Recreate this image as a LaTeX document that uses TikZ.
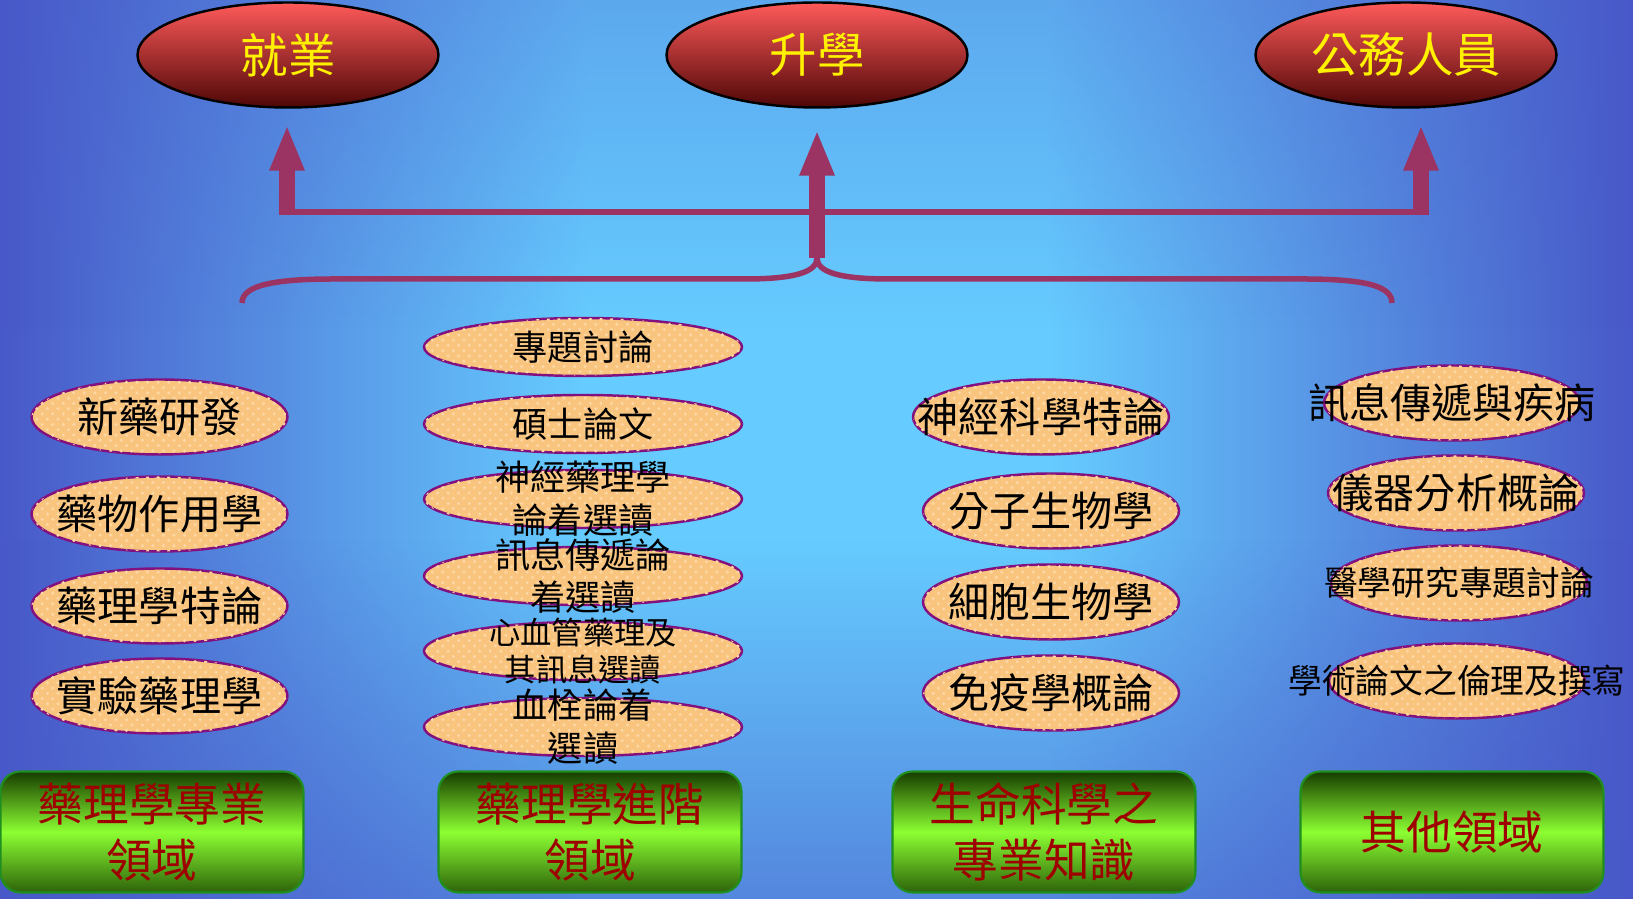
\documentclass[tikz,border=0pt]{standalone}
\usepackage{fontspec}
\newfontfamily\cjk{Noto Sans CJK TC}
\usepackage{tikz}
\usetikzlibrary{shapes.geometric}
\usetikzlibrary{positioning}
\usetikzlibrary{calc,arrows.meta,patterns,fadings}

\definecolor{bgedge}{HTML}{4858C8}
\definecolor{bgmid}{HTML}{66CCFF}
\definecolor{redtop}{HTML}{FF5A5A}
\definecolor{redbot}{HTML}{4E0606}
\definecolor{plum}{HTML}{9B3462}
\definecolor{peach}{HTML}{F9C47E}
\definecolor{peachdot}{HTML}{FDD7A4}
\definecolor{rim}{HTML}{82107E}
\definecolor{lime}{HTML}{8CFF32}
\definecolor{forest}{HTML}{163C00}
\definecolor{boxrim}{HTML}{1F8F1F}
\definecolor{darkred}{HTML}{9E0000}

\pgfdeclarehorizontalshading{bgband}{100bp}{color(0bp)=(bgedge); color(25bp)=(bgedge); color(43bp)=(bgmid); color(57bp)=(bgmid); color(75bp)=(bgedge); color(100bp)=(bgedge)}
\tikzfading[name=fadedown, top color=transparent!0, bottom color=transparent!100]
\tikzfading[name=fadeup, top color=transparent!100, bottom color=transparent!0]

\begin{document}
\begin{tikzpicture}[y=-1cm]
 \useasboundingbox (0,0) rectangle (16.33,8.99);

\tikzstyle{goal}=[ellipse,draw=black,line width=0.7pt,top color=redtop,bottom color=redbot,minimum width=3.01cm,minimum height=1.05cm,inner sep=0pt,text=yellow,font=\cjk\fontsize{13.5pt}{16pt}\selectfont]
\tikzstyle{course}=[ellipse,draw=rim,line width=0.7pt,fill=peach,postaction={pattern=crosshatch dots,pattern color=peachdot},minimum width=2.56cm,minimum height=0.75cm,inner sep=0pt]
\tikzstyle{thin course}=[course,minimum width=3.18cm,minimum height=0.58cm]
\tikzstyle{ctext}=[font=\cjk\fontsize{11.7pt}{14pt}\selectfont,align=center,inner sep=0pt]
\tikzstyle{stext}=[font=\cjk\fontsize{10pt}{12.2pt}\selectfont,align=center,inner sep=0pt]
\tikzstyle{ntext}=[font=\cjk\fontsize{9.6pt}{11pt}\selectfont,align=center,inner sep=0pt]
\tikzstyle{xtext}=[font=\cjk\fontsize{8.9pt}{10.5pt}\selectfont,align=center,inner sep=0pt]
\tikzstyle{fieldbox}=[rectangle,rounded corners=0.2cm,draw=boxrim,line width=0.6pt,top color=forest,bottom color=forest!80!lime,middle color=lime,minimum width=3.03cm,minimum height=1.21cm,inner sep=0pt,align=center,text=darkred,font=\cjk\fontsize{13pt}{16pt}\selectfont]
\tikzstyle{flow}=[plum,line width=0.16cm,-{Triangle[length=0.46cm,width=0.32cm]}]
\tikzstyle{rail}=[plum,line width=0.055cm]

   %draw background
    \shade[shading=bgband] (0,0) rectangle (16.33,8.99);
    \fill[bgedge,opacity=0.3,path fading=fadedown] (0,0) rectangle (16.33,3.3);
    \fill[bgedge,opacity=0.6,path fading=fadeup] (0,5.4) rectangle (16.33,8.99);

   %draw goals
    \node (jiuye) [goal] at (2.88,0.55) {就業};
    \node (shengxue) [goal] at (8.17,0.55) {升學};
    \node (gongwu) [goal] at (14.06,0.55) {公務人員};

   %draw arrows and brace
    \coordinate (railL) at (2.87,2.12);
    \coordinate (railR) at (14.21,2.12);
    \coordinate (tip) at (8.17,2.58);

    \draw [rail] (railL) -- (railR);
    \draw [flow,shorten >=0.16cm] ($(railL)+(0,0.03)$) -- (railL |- jiuye.south);
    \draw [flow,shorten >=0.16cm] ($(railR)+(0,0.03)$) -- (railR |- gongwu.south);
    \draw [flow,shorten >=0.21cm] (tip) -- (shengxue.south);

    \draw [rail] (2.42,3.03) .. controls (2.42,2.85) and (2.75,2.79) .. (3.35,2.79) -- (7.45,2.79) .. controls (7.95,2.79) and (8.17,2.72) .. (tip) .. controls (8.17,2.72) and (8.39,2.79) .. (8.89,2.79) -- (13.02,2.79) .. controls (13.62,2.79) and (13.92,2.85) .. (13.92,3.03);

   %first column
    \node (xinyao) [course,label={[ctext]center:新藥研發}] at (1.595,4.17) {};
    \node (yaowu) [course,label={[ctext]center:藥物作用學}] at (1.595,5.14) {};
    \node (yaoli) [course,label={[ctext]center:藥理學特論}] at (1.595,6.06) {};
    \node (shiyan) [course,label={[ctext]center:實驗藥理學}] at (1.595,6.96) {};

   %second column
    \node (zhuanti) [thin course,label={[stext]center:專題討論}] at (5.83,3.47) {};
    \node (shuoshi) [thin course,label={[stext]center:碩士論文}] at (5.83,4.24) {};
    \node (shenjing) [thin course,label={[stext]center:{神經藥理學\\論着選讀}}] at (5.83,4.99) {};
    \node (xunxi) [thin course,label={[stext]center:{訊息傳遞論\\着選讀}}] at (5.83,5.76) {};
    \node (xinxue) [thin course,label={[xtext]center:{心血管藥理及\\其訊息選讀}}] at (5.83,6.51) {};
    \node (xueshuan) [thin course,label={[stext]center:{血栓論着\\選讀}}] at (5.83,7.27) {};

   %third column
    \node (shenke) [course,label={[ctext]center:神經科學特論}] at (10.41,4.17) {};
    \node (fenzi) [course,label={[ctext]center:分子生物學}] at (10.51,5.11) {};
    \node (xibao) [course,label={[ctext]center:細胞生物學}] at (10.51,6.02) {};
    \node (mianyi) [course,label={[ctext]center:免疫學概論}] at (10.51,6.93) {};

   %fourth column
    \node (jibing) [course,label={[ctext]center:訊息傳遞與疾病}] at (14.52,4.03) {};
    \node (yiqi) [course,label={[ctext]center:儀器分析概論}] at (14.56,4.93) {};
    \node (yixue) [course,label={[ntext]center:醫學研究專題討論}] at (14.59,5.83) {};
    \node (lunli) [course,label={[ntext]center:學術論文之倫理及撰寫}] at (14.57,6.81) {};

   %draw fields
    \node (zhuanye) [fieldbox] at (1.52,8.32) {藥理學專業\\領域};
    \node (jinjie) [fieldbox] at (5.90,8.32) {藥理學進階\\領域};
    \node (shengming) [fieldbox] at (10.44,8.32) {生命科學之\\專業知識};
    \node (qita) [fieldbox] at (14.52,8.32) {其他領域};

\end{tikzpicture}
\end{document}
